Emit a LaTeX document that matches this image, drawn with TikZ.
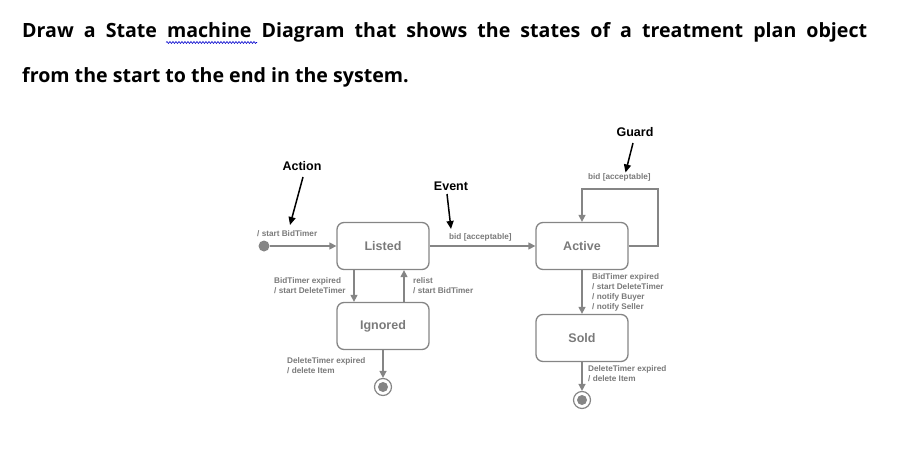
\documentclass[tikz,border=0pt]{standalone}
\usepackage{fontspec}
\setmainfont{Liberation Sans}
\newfontfamily\titlefont{Open Sans}
\usetikzlibrary{arrows.meta,decorations.pathmorphing}
\definecolor{gc}{HTML}{858585}
\definecolor{gt}{HTML}{7A7A7A}
\tikzset{
  statebox/.style={draw=gc, line width=1.3pt, rounded corners=7pt, minimum width=92pt, minimum height=47pt, inner sep=0pt,
    font=\fontsize{12.5}{14}\selectfont\bfseries, text=gt},
  tr/.style={draw=gc, line width=1.4pt, -{Triangle[length=7pt,width=7pt]}, fill=none},
  lbl/.style={anchor=west, align=left, inner sep=0pt, text=gt, font=\fontsize{8.2}{10}\selectfont\bfseries},
  ann/.style={font=\fontsize{12.5}{14}\selectfont\bfseries, text=black, inner sep=0pt},
  annarrow/.style={draw=black, line width=1.5pt, -{Triangle[length=8pt,width=7pt]}},
  initst/.style={circle, fill=gc, minimum size=11pt, inner sep=0pt},
  finalst/.style={circle, draw=gc, line width=1.2pt, minimum size=17pt, inner sep=0pt},
  ttl/.style={anchor=base west, inner sep=0pt, font=\titlefont\fontsize{19.6}{22}\selectfont\bfseries}
}
\begin{document}
\begin{tikzpicture}[x=1pt,y=-1pt]
\useasboundingbox (0,0) rectangle (923,476);
% title
\node[ttl] (t1) at (22,37.5) {\makebox[845pt][s]{Draw a State machine Diagram that shows the states of a treatment plan object}};
\node[ttl] (t2) at (22,82.3) {from the start to the end in the system.};
\draw[blue!80!black, line width=0.6pt, decorate, decoration={snake, amplitude=1pt, segment length=3pt}] (166,42.5) -- (257,42.5);
% states
\node[statebox] (listed) at (383,246) {Listed};
\node[statebox] (active) at (582,246) {Active};
\node[statebox] (ignored) at (383,326) {Ignored};
\node[statebox] (sold) at (582,338) {Sold};
\node[initst] (init) at (264,246) {};
\node[finalst] (f1) at (383,387) {};
\fill[gc] (f1) circle (5pt);
\node[finalst] (f2) at (582,400) {};
\fill[gc] (f2) circle (5pt);
% transitions
\draw[tr] (init) -- (listed.west);
\draw[tr] (listed.east) -- (active.west);
\draw[tr] ([xshift=-29pt]listed.south) -- ([xshift=-29pt]ignored.north);
\draw[tr] ([xshift=21pt]ignored.north) -- ([xshift=21pt]listed.south);
\draw[tr] (ignored.south) -- (f1.north);
\coordinate (loopc) at (658,189);
\draw[tr] (active.east) -| (loopc) -| (active.north);
\draw[tr] (active.south) -- (sold.north);
\draw[tr] (sold.south) -- (f2.north);
% labels
\node[lbl] (l1) at (257,234) {/ start BidTimer};
\node[lbl] (l2) at (449,237) {bid [acceptable]};
\node[lbl] (l3) at (274,286) {BidTimer expired\\/ start DeleteTimer};
\node[lbl] (l4) at (413,286) {relist\\/ start BidTimer};
\node[lbl] (l5) at (287,366) {DeleteTimer expired\\/ delete Item};
\node[lbl] (l6) at (588,177) {bid [acceptable]};
\node[lbl] (l7) at (592,292) {BidTimer expired\\/ start DeleteTimer\\/ notify Buyer\\/ notify Seller};
\node[lbl] (l8) at (588,374) {DeleteTimer expired\\/ delete Item};
% annotations
\node[ann] (action) at (302,166) {Action};
\node[ann] (event) at (451,186) {Event};
\node[ann] (guard) at (635,132) {Guard};
\coordinate (actip) at (290,225);
\coordinate (evtip) at (451,229);
\coordinate (gdtip) at (625.5,172.5);
\draw[annarrow] (303,177) -- (actip);
\draw[annarrow] (447,194) -- (evtip);
\draw[annarrow] (633,143) -- (gdtip);
\end{tikzpicture}
\end{document}
